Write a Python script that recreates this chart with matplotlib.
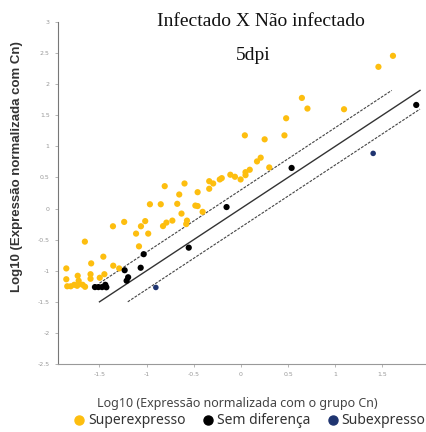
import matplotlib.pyplot as plt
from matplotlib.lines import Line2D
import numpy as np

# Superexpresso (yellow)
sup_x = [1.613, 1.459, 0.647, 0.706, 1.094, 0.480, 0.042, 0.252, 0.462, 0.210,
         0.171, 0.301, 0.094, 0.049, 0.049, -0.112, -0.063, -0.003, -0.203, -0.224,
         -0.336, -0.294, -0.336, -0.808, -0.598, -0.459, -0.654, -0.965, -0.850, -0.675,
         -0.483, -0.459, -0.406, -0.630, -0.790, -0.727, -0.826, -0.572, -0.580, -1.357,
         -1.238, -1.015, -1.060, -1.112, -0.983, -1.081, -1.655, -1.459, -1.588, -1.354,
         -1.291, -1.852, -1.595, -1.448, -1.731, -1.852, -1.595, -1.497, -1.721,
         -1.842, -1.805, -1.768, -1.737, -1.716, -1.679, -1.653]
sup_y = [2.456, 2.279, 1.779, 1.608, 1.597, 1.452, 1.177, 1.113, 1.177, 0.818,
         0.758, 0.661, 0.624, 0.585, 0.537, 0.544, 0.511, 0.468, 0.489, 0.468,
         0.440, 0.403, 0.318, 0.360, 0.403, 0.263, 0.226, 0.069, 0.069, 0.076,
         0.048, 0.040, -0.053, -0.081, -0.226, -0.194, -0.282, -0.194, -0.250, -0.285,
         -0.215, -0.202, -0.285, -0.403, -0.403, -0.608, -0.532, -0.774, -0.882, -0.919,
         -0.963, -0.963, -1.056, -1.056, -1.081, -1.137, -1.129, -1.113, -1.161,
         -1.250, -1.250, -1.226, -1.242, -1.210, -1.226, -1.258]

# Sem diferença (black)
sem_x = [-1.548, -1.511, -1.472, -1.438, -1.427, -1.233, -1.196, -1.212, -1.063, -1.031,
         -0.553, -0.152, 0.538, 1.860]
sem_y = [-1.263, -1.263, -1.263, -1.226, -1.266, -0.992, -1.105, -1.161, -0.952, -0.734,
         -0.629, 0.024, 0.653, 1.666]

# Subexpresso (blue)
sub_x = [-0.902, 1.403]
sub_y = [-1.269, 0.887]

# reference lines: y = x + offset, drawn between x limits
line_offsets = [0.0, 0.3, -0.3]
line_x0 = [-1.5, -1.5, -1.2]
line_x1 = [1.9, 1.6, 1.9]

c_sup = '#FDBE0F'
c_sem = '#000000'
c_sub = '#1F3470'

fig = plt.figure(figsize=(4.26, 4.32), dpi=100)
ax = fig.add_axes([58 / 426, 1 - 364 / 432, 1 - 58 / 426 - 0.003, (364 - 22) / 432])

for off, a, b in zip(line_offsets, line_x0, line_x1):
    xs = np.array([a, b])
    if off == 0:
        ax.plot(xs, xs + off, color='#333333', lw=1.0, zorder=1)
    else:
        ax.plot(xs, xs + off, color='#444444', lw=0.8, ls=(0, (2.5, 1.2)), zorder=1)

ax.scatter(sup_x, sup_y, s=20, color=c_sup, edgecolors='none', zorder=3)
ax.scatter(sem_x, sem_y, s=20, color=c_sem, edgecolors='none', zorder=3)
ax.scatter(sub_x, sub_y, s=16, color=c_sub, edgecolors='none', zorder=3)

ax.set_xlim(-1.94, 1.95)
ax.set_ylim(-2.5, 3.0)
xt = [-1.5, -1, -0.5, 0, 0.5, 1, 1.5]
yt = [-2.5, -2, -1.5, -1, -0.5, 0, 0.5, 1, 1.5, 2, 2.5, 3]
ax.set_xticks(xt)
ax.set_xticklabels(['-1.5', '-1', '-0.5', '0', '0.5', '1', '1.5'])
ax.set_yticks(yt)
ax.set_yticklabels(['-2.5', '-2', '-1.5', '-1', '-0.5', '0', '0.5', '1', '1.5', '2', '2.5', '3'])
ax.tick_params(labelsize=4.5, labelcolor='#999999', color='#aaaaaa', length=2, width=0.6, pad=4)
ax.spines['top'].set_visible(False)
ax.spines['right'].set_visible(False)
ax.spines['left'].set_color('#777777')
ax.spines['bottom'].set_color('#999999')

fig.text(261 / 426, 1 - 22 / 432, 'Infectado X Não infectado', family='Liberation Serif',
         fontsize=14, ha='center', va='center', color='#111111')
fig.text(253 / 426, 1 - 55 / 432, '5dpi', family='Liberation Serif',
         fontsize=14, ha='center', va='center', color='#111111')

fig.text(237 / 426, 1 - 403 / 432, 'Log10 (Expressão normalizada com o grupo Cn)',
         family='Noto Sans', fontsize=9, ha='center', va='center', color='#444444')
fig.text(17 / 426, 1 - 167 / 432, 'Log10 (Expressão normalizada com Cn)',
         family='Liberation Sans', fontweight='bold', fontsize=9.5, rotation=90,
         ha='center', va='center', color='#333333')

handles = [Line2D([], [], ls='', marker='o', ms=6.5, color=c) for c in (c_sup, c_sem, c_sub)]
fig.legend(handles, ['Superexpresso', 'Sem diferença', 'Subexpresso'], loc='center',
           bbox_to_anchor=(249 / 426, 1 - 421 / 432), ncol=3, frameon=False,
           prop={'family': 'Noto Sans', 'size': 10}, labelcolor='#333333',
           handletextpad=0.15, columnspacing=1.1, handlelength=1.0, borderaxespad=0)

fig.savefig('out.png', dpi=100)
